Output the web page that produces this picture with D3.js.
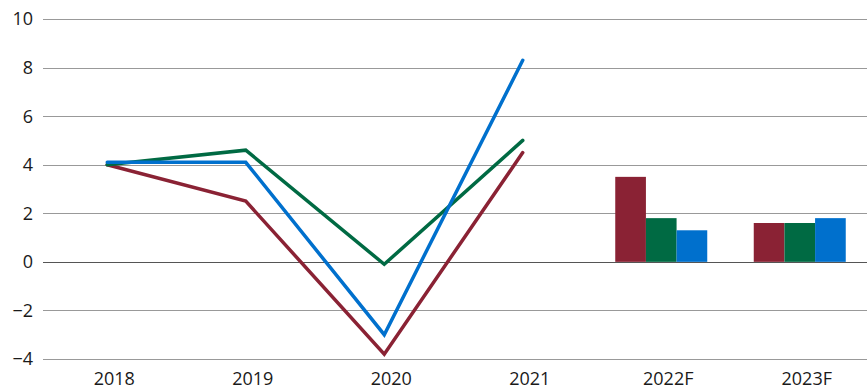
<!DOCTYPE html>
<html>
<head>
<meta charset="utf-8">
<script src="https://cdn.jsdelivr.net/npm/d3@7"></script>
<style>
  body { margin: 0; background: #fff; }
  text { font-family: "Open Sans", sans-serif; fill: #1a1a1a; }
</style>
</head>
<body>
<svg id="chart"></svg>
<script>
// data
var categories = ['2018', '2019', '2020', '2021', '2022F', '2023F'];
var lineYears = ['2018', '2019', '2020', '2021'];
var barYears = ['2022F', '2023F'];
var redValues = [4.0, 2.5, -3.8, 4.5];
var greenValues = [4.0, 4.6, -0.1, 5.0];
var blueValues = [4.1, 4.1, -3.0, 8.3];
var redBars = [3.5, 1.6];
var greenBars = [1.8, 1.6];
var blueBars = [1.3, 1.8];
var yTicks = [-4, -2, 0, 2, 4, 6, 8, 10];

var W = 867, H = 390;
var colors = { red: '#8a2234', green: '#006a43', blue: '#0070cd' };

var svg = d3.select('#chart')
  .attr('width', W)
  .attr('height', H);

var x = d3.scaleBand()
  .domain(categories)
  .range([38, 869])
  .padding(0);

var y = d3.scaleLinear()
  .domain([-4, 10])
  .range([359, 19]);

// grid
svg.append('g')
  .selectAll('line')
  .data(yTicks)
  .enter()
  .append('line')
  .attr('x1', 43)
  .attr('x2', W)
  .attr('y1', function(d) { return Math.round(y(d)) + 0.5; })
  .attr('y2', function(d) { return Math.round(y(d)) + 0.5; })
  .attr('stroke', function(d) { return d === 0 ? '#555' : '#999'; })
  .attr('stroke-width', 1);

// y labels
svg.append('g')
  .selectAll('text')
  .data(yTicks)
  .enter()
  .append('text')
  .attr('x', 33)
  .attr('y', function(d) { return y(d); })
  .attr('dy', '0.36em')
  .attr('text-anchor', 'end')
  .style('font-size', '18px')
  .text(function(d) { return d < 0 ? '\u2212' + Math.abs(d) : d; });

// x labels
svg.append('g')
  .selectAll('text')
  .data(categories)
  .enter()
  .append('text')
  .attr('x', function(d) { return x(d) + x.bandwidth() / 2 + 7; })
  .attr('y', 385)
  .attr('text-anchor', 'middle')
  .style('font-size', '18px')
  .text(function(d) { return d; });

// bars
var barSeries = [
  { values: redBars, color: colors.red },
  { values: greenBars, color: colors.green },
  { values: blueBars, color: colors.blue }
];
var xb = d3.scaleBand()
  .domain([0, 1, 2])
  .range([-46, 46])
  .padding(0);

barSeries.forEach(function(s, i) {
  svg.append('g')
    .selectAll('rect')
    .data(barYears)
    .enter()
    .append('rect')
    .attr('x', function(d) { return x(d) + x.bandwidth() / 2 + xb(i); })
    .attr('width', xb.bandwidth())
    .attr('y', function(d, j) { return y(Math.max(0, s.values[j])); })
    .attr('height', function(d, j) { return Math.abs(y(s.values[j]) - y(0)); })
    .attr('fill', s.color);
});

// lines
var lineSeries = [
  { values: redValues, color: colors.red },
  { values: greenValues, color: colors.green },
  { values: blueValues, color: colors.blue }
];
var line = d3.line()
  .x(function(d, i) { return x(lineYears[i]) + x.bandwidth() / 2; })
  .y(function(d) { return y(d); });

lineSeries.forEach(function(s) {
  svg.append('path')
    .datum(s.values)
    .attr('d', line)
    .attr('fill', 'none')
    .attr('stroke', s.color)
    .attr('stroke-width', 3.5)
    .attr('stroke-linejoin', 'miter')
    .attr('stroke-linecap', 'round');
});
</script>
</body>
</html>
